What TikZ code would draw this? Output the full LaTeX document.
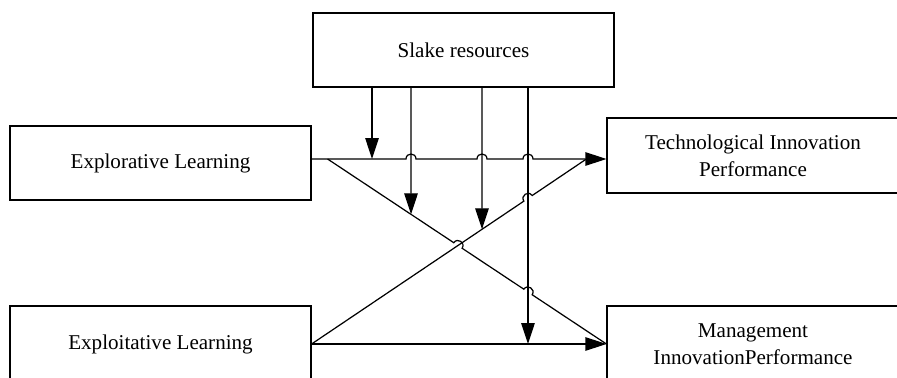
\documentclass[tikz,border=0pt]{standalone}
\usepackage{fontspec}
\setmainfont{Liberation Serif}
\usetikzlibrary{calc, positioning}
\usetikzlibrary{arrows.meta}
\def\bw{6.02cm}
\def\bh{1.48cm}
\def\hr{0.1cm}
\tikzset{
    border/.style = {
        draw, rectangle, minimum width=\bw, minimum height=\bh, line width=0.7pt, align=center,
        font=\fontsize{12}{15.5}\selectfont
    },
    jumpover/.style n args = {3}{
        insert path = {-- ($(#1)!\hr!(#2)$) to[out=90, in=90, relative, looseness=1.7] ($(#1)!\hr!(#3)$)}
    },
}

\begin{document}
\begin{tikzpicture}[x=0.02cm, y=-0.02cm]
        \useasboundingbox (0,0) rectangle (897,378);

        % Place the blocks
        \node [border] (slake) at (463.5,50) {Slake resources};
        \node [border] (explore) at (160.5,163) {Explorative Learning};
        \node [border, minimum height=1.52cm] (exploit) at (160.5,344) {Exploitative Learning};
        \node [border, minimum width=5.84cm, minimum height=1.5cm] (tech) at (753,155.5) {Technological Innovation\\Performance};
        \node [border, minimum width=5.84cm, minimum height=1.52cm] (manage) at (753,344) {Management\\InnovationPerformance};

        % Helper points
        \coordinate (a) at ([yshift=0.08cm]explore.east);
        \coordinate (b) at (tech.west |- a);
        \coordinate (c) at ($(a)+(16,0)$);
        \coordinate (d) at ($(b)+(-20,0)$);
        \coordinate (e) at (exploit.east);
        \coordinate (m) at (manage.west);
        \foreach \n/\dx in {1/-1.83cm, 2/-1.05cm, 3/0.37cm, 4/1.29cm}
            \coordinate (s\n) at ([xshift=\dx]slake.south);

        % Crossings
        \coordinate (x2) at (s2 |- a);
        \coordinate (x3) at (s3 |- a);
        \coordinate (x4) at (s4 |- a);
        \coordinate (f) at (s4 |- e);
        \coordinate (y2) at (intersection of c--m and s2--x2);
        \coordinate (y3) at (intersection of e--d and s3--x3);
        \coordinate (z) at (intersection of c--m and e--d);
        \coordinate (w1) at (intersection of c--m and s4--f);
        \coordinate (w2) at (intersection of e--d and s4--f);

        % Draw connections
        \begin{scope}[line width=0.7pt, >={Triangle[width=0.27cm, length=0.42cm]}]
            \draw[->] (a) [jumpover={x2}{a}{b}] [jumpover={x3}{a}{b}] [jumpover={x4}{a}{b}] -- (b);
            \draw (c) [jumpover={z}{c}{m}] [jumpover={w1}{c}{m}] -- (m);
            \draw (e) [jumpover={w2}{e}{d}] -- (d);
            \draw[->] (e) -- (m);
            \draw[->] (s1) -- (s1 |- a);
            \draw[->] (s2) -- (y2);
            \draw[->] (s3) -- (y3);
            \draw[->] (s4) -- (f);
        \end{scope}
    \end{tikzpicture}
\end{document}
